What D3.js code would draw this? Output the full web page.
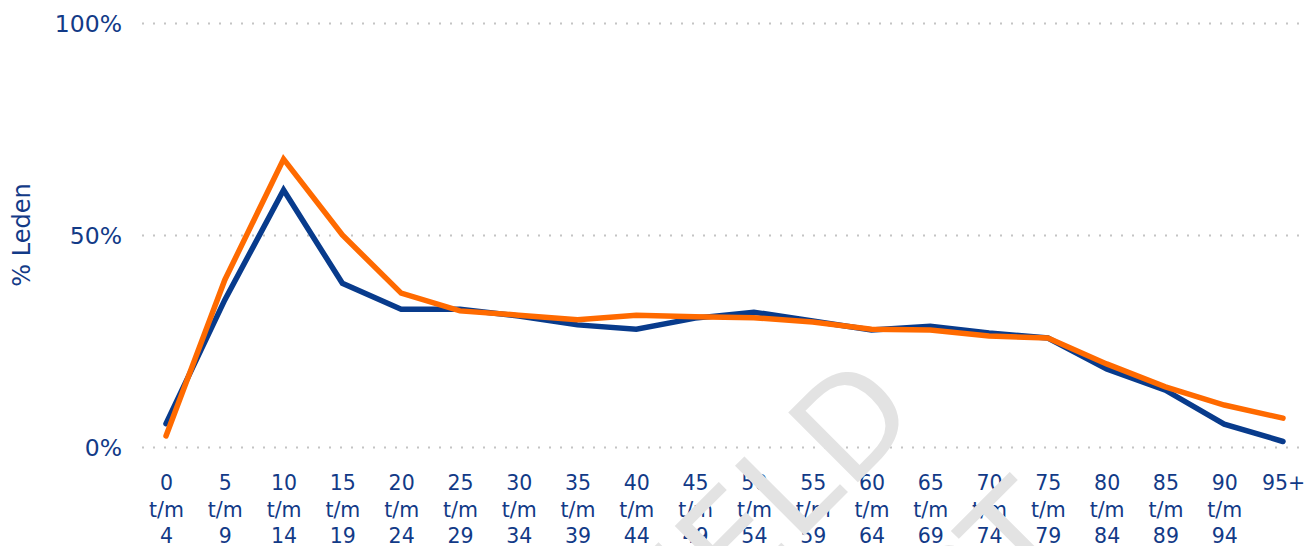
<!DOCTYPE html>
<html>
<head>
<meta charset="utf-8">
<script src="https://cdnjs.cloudflare.com/ajax/libs/d3/7.8.5/d3.min.js"></script>
<style>
  body { margin: 0; background: #fff; }
  svg { display: block; font-family: "DejaVu Sans", Verdana, sans-serif; }
</style>
</head>
<body>
<div id="chart"></div>
<script>
var width = 1306
var height = 546
var textcolor = "#123a87"
var bluecolor = "#083b8c"
var orangecolor = "#ff6a00"

// leeftijdsklassen
var categories = ["0 t/m 4", "5 t/m 9", "10 t/m 14", "15 t/m 19", "20 t/m 24",
    "25 t/m 29", "30 t/m 34", "35 t/m 39", "40 t/m 44", "45 t/m 49",
    "50 t/m 54", "55 t/m 59", "60 t/m 64", "65 t/m 69", "70 t/m 74",
    "75 t/m 79", "80 t/m 84", "85 t/m 89", "90 t/m 94", "95+"]

// % leden per leeftijdsklasse
var blueValues = [0.055, 0.347, 0.606, 0.386, 0.325, 0.325, 0.309, 0.288, 0.278, 0.304,
    0.318, 0.297, 0.276, 0.285, 0.269, 0.257, 0.184, 0.134, 0.054, 0.013]
var orangeValues = [0.026, 0.394, 0.679, 0.500, 0.363, 0.321, 0.311, 0.300, 0.311, 0.307,
    0.305, 0.295, 0.278, 0.276, 0.262, 0.257, 0.196, 0.142, 0.099, 0.068]

var yTicks = [0, 0.5, 1]
var yTitle = "% Leden"
var watermark = ["VOORBEELD", "CONCEPT"]

var svg = d3.select("#chart").append("svg")
    .attr("width", width)
    .attr("height", height)

var x = d3.scalePoint()
    .domain(categories)
    .range([166, 1283])

var y = d3.scaleLinear()
    .domain([0, 1])
    .range([447, 23])

// y axis + dotted gridlines
var yAxis = svg.append("g")
    .attr("transform", "translate(142,0)")
    .call(d3.axisLeft(y)
        .tickValues(yTicks)
        .tickFormat(d3.format(".0%"))
        .tickSize(-(width - 142))
        .tickPadding(20))
yAxis.select(".domain").remove()
yAxis.selectAll(".tick line")
    .attr("stroke", "#c4c4c4")
    .attr("stroke-width", 2)
    .attr("stroke-dasharray", "2,9")
yAxis.selectAll(".tick text")
    .attr("fill", textcolor)
    .attr("font-size", 23.5)
    .attr("font-family", "DejaVu Sans, Verdana, sans-serif")
    .attr("dy", "0.36em")

svg.append("text")
    .attr("transform", "translate(30,235) rotate(-90)")
    .attr("text-anchor", "middle")
    .attr("fill", textcolor)
    .attr("font-size", 24)
    .text(yTitle)

// x axis with three-line labels
var xAxis = svg.append("g")
    .attr("transform", "translate(0,447)")
    .call(d3.axisBottom(x).tickSize(0))
xAxis.select(".domain").remove()
xAxis.selectAll(".tick text")
    .attr("fill", textcolor)
    .attr("font-size", 20.5)
    .attr("font-family", "DejaVu Sans, Verdana, sans-serif")
    .attr("y", 0)
    .attr("dy", 0)
    .text(null)
    .each(function(d) {
        var parts = d.split(" ")
        var t = d3.select(this)
        for (var i = 0; i < parts.length; i++) {
            t.append("tspan")
                .attr("x", 0)
                .attr("y", 43 + i * 26.5)
                .text(parts[i])
        }
    })

// lines
var line = d3.line()
    .x(function(d, i) { return x(categories[i]) })
    .y(function(d) { return y(d) })

svg.append("path")
    .datum(blueValues)
    .attr("d", line)
    .attr("fill", "none")
    .attr("stroke", bluecolor)
    .attr("stroke-width", 5.5)
    .attr("stroke-linecap", "round")

svg.append("path")
    .datum(orangeValues)
    .attr("d", line)
    .attr("fill", "none")
    .attr("stroke", orangecolor)
    .attr("stroke-width", 5.5)
    .attr("stroke-linecap", "round")

// watermark
var wm = svg.append("g")
    .attr("fill", "#e3e3e3")
    .attr("font-size", 135)
    .attr("font-family", "DejaVu Sans, sans-serif")
wm.append("text")
    .attr("transform", "translate(922,418) rotate(-45)")
    .attr("text-anchor", "end")
    .text(watermark[0])
wm.append("text")
    .attr("transform", "translate(1079,542) rotate(-45)")
    .attr("text-anchor", "end")
    .text(watermark[1])
</script>
</body>
</html>
